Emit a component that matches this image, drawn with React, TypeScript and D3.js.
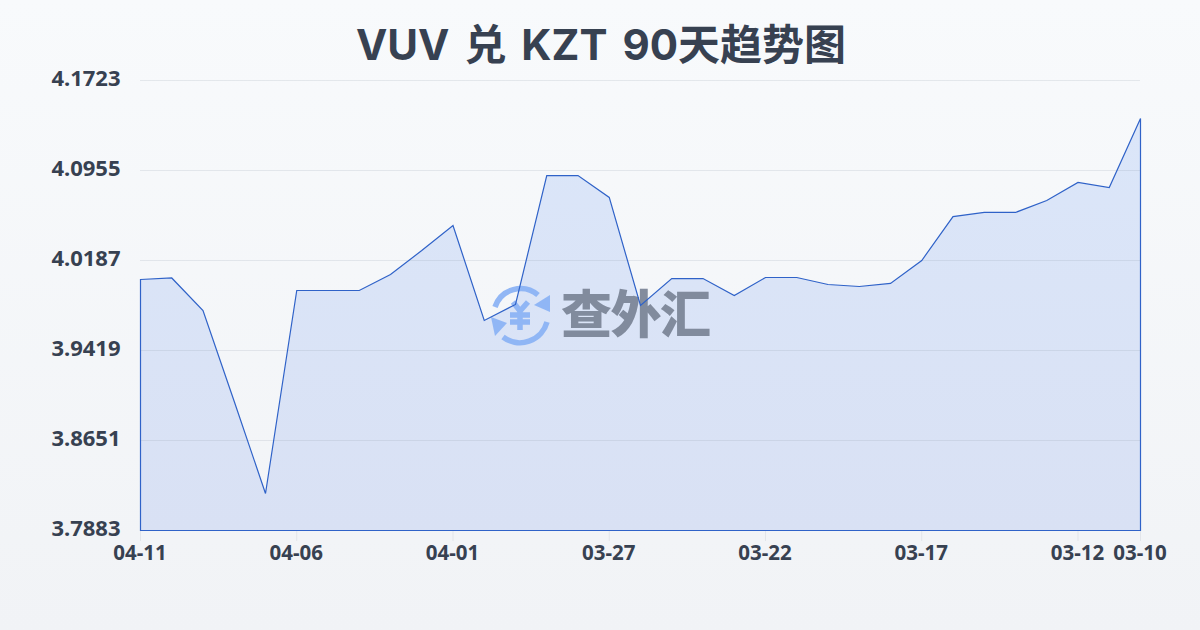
import React from "react";
import * as d3 from "d3";

const dates = ["04-11","04-10","04-09","04-08","04-07","04-06","04-05","04-04","04-03","04-02","04-01","03-31","03-30","03-29","03-28","03-27","03-26","03-25","03-24","03-23","03-22","03-21","03-20","03-19","03-18","03-17","03-16","03-15","03-14","03-13","03-12","03-11","03-10"];
const rates = [4.0025,4.0038,3.976,3.8984,3.8199,3.9931,3.9931,3.9931,4.0068,4.0272,4.0486,3.9675,3.9812,4.0912,4.0912,4.0725,3.9803,4.0033,4.0033,3.9888,4.0042,4.0042,3.9982,3.9965,3.9991,4.0187,4.0562,4.0597,4.0597,4.0699,4.0853,4.081,4.1399];
const yTicks = [3.7883,3.8651,3.9419,4.0187,4.0955,4.1723];
const xTicks = ["04-11","04-06","04-01","03-27","03-22","03-17","03-12","03-10"];
const titleText = "VUV 兑 KZT 90天趋势图";
const TITLE_FONT = "Inter,'Noto Sans CJK SC',sans-serif";
const FONT = "'Noto Sans','Noto Sans CJK SC',sans-serif";
const BLUE = "#8db4f5";
const INK = "#374151";

export default function App() {
  const x = d3.scalePoint<string>().domain(dates).range([140, 1140]);
  const y = d3.scaleLinear().domain([3.7883, 4.1723]).range([530, 80]);
  const pts = dates.map((d, i) => ({ d, v: rates[i] }));
  const area = d3.area<{ d: string; v: number }>()
    .x((p) => x(p.d)!)
    .y0(530)
    .y1((p) => y(p.v))(pts)!;
  return (
    <svg width={1200} height={630} viewBox="0 0 1200 630" style={{ position: "absolute", left: 0, top: 0, display: "block" }}>
      <defs>
        <linearGradient id="bg" x1="0" y1="0" x2="0" y2="1">
          <stop offset="0" stopColor="#f8fafc" />
          <stop offset="1" stopColor="#f1f3f6" />
        </linearGradient>
        <linearGradient id="fill" x1="0" y1="0" x2="0" y2="1">
          <stop offset="0" stopColor="#dbe6f9" />
          <stop offset="1" stopColor="#d9e1f4" />
        </linearGradient>
      </defs>
      <rect width={1200} height={630} fill="url(#bg)" />
      <text x={601} y={60} textAnchor="middle" fontFamily={TITLE_FONT} fontWeight={700} fontSize={42} wordSpacing={5} fill={INK}>{titleText}</text>
      <path d={area} fill="url(#fill)" transform="translate(0.5,0.5)" />
      {yTicks.map((t) => (
        <g key={t}>
          <line x1={140} x2={1140} y1={y(t) + 0.5} y2={y(t) + 0.5} stroke="#8a94a6" strokeOpacity={0.18} strokeWidth={1} />
          <text x={120.5} y={y(t) - 3} textAnchor="end" dominantBaseline="central" fontFamily={FONT} fontWeight={700} fontSize={22} fill={INK}>{t.toFixed(4)}</text>
        </g>
      ))}
      {xTicks.map((t) => (
        <g key={t}>
          <line x1={x(t)! + 0.5} x2={x(t)! + 0.5} y1={530} y2={541} stroke="#e2e5ea" strokeWidth={1} />
          <text x={x(t)} y={560} textAnchor="middle" fontFamily={FONT} fontWeight={700} fontSize={20.5} fill={INK}>{t}</text>
        </g>
      ))}
      <g opacity={0.95}>
        <g fill="none" stroke={BLUE} strokeWidth={5.5}>
          <path d="M495 307 A27 27 0 0 1 538 295" />
          <path d="M547 322 A28 28 0 0 1 503 337" />
        </g>
        <path d="M550 295 L550 312 L534 305 Z" fill={BLUE} />
        <path d="M491 317 L507 323 L495 336 Z" fill={BLUE} />
        <path d="M513 302 L520 311 L528 302 M510 315 H530 M510 322 H530 M520 311 V330" fill="none" stroke={BLUE} strokeWidth={5.5} />
        <text x={636} y={333} textAnchor="middle" fontFamily="'Noto Sans CJK SC',sans-serif" fontWeight={900} fontSize={51} fill="#7d8799" textLength={150}>查外汇</text>
      </g>
      <path d={area} fill="none" stroke="#2f62c8" strokeWidth={1.2} transform="translate(0.5,0.5)" />
    </svg>
  );
}
